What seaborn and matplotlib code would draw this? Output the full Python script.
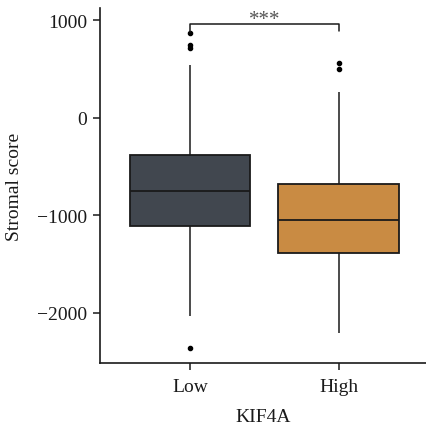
import matplotlib
matplotlib.use("Agg")
import matplotlib.pyplot as plt
import seaborn as sns
import pandas as pd

groups = ["Low", "High"]
low_scores = [-2360, -2040, -1600, -1300, -1110, -1000, -900, -820, -750,
              -650, -550, -450, -380, 541, 722, 753, 870]
high_scores = [-2210, -1800, -1550, -1387, -1250, -1150, -1048, -950, -800,
               -678, 261, 497, 562]
palette = ["#41474f", "#c98b43"]
yticks = [1000, 0, -1000, -2000]
sig_label = "***"
sig_y = 962

df = pd.DataFrame({
    "KIF4A": ["Low"] * len(low_scores) + ["High"] * len(high_scores),
    "Stromal score": low_scores + high_scores,
})

sns.set_style("ticks")
plt.rcParams["font.family"] = ["Liberation Serif", "DejaVu Serif"]

fig = plt.figure(figsize=(4.26, 4.31), dpi=100)
ax = fig.add_axes([0.2347, 0.1555, 0.7653, 0.8225])

sns.boxplot(data=df, x="KIF4A", y="Stromal score", order=groups,
            hue="KIF4A", hue_order=groups, palette=palette, legend=False,
            width=0.81, linewidth=1.3, linecolor="#1a1a1a", saturation=1,
            flierprops=dict(marker="o", markersize=3,
                            markerfacecolor="black", markeredgecolor="black"),
            whiskerprops=dict(color="#1a1a1a", linewidth=1.1),
            capprops=dict(linewidth=0),
            ax=ax)

ax.set_xlim(-0.605, 1.587)
ax.set_ylim(-2518, 1123)
ax.set_yticks(yticks)
ax.set_yticklabels([str(v).replace("-", "\u2212") for v in yticks])
sns.despine(ax=ax)
for s in ["left", "bottom"]:
    ax.spines[s].set_linewidth(1.2)
    ax.spines[s].set_color("#1a1a1a")
ax.tick_params(axis="both", length=5, width=1.1, labelsize=14,
               colors="#1a1a1a", pad=4)
ax.tick_params(axis="x", pad=6)
ax.set_xlabel("KIF4A", fontsize=14, labelpad=9, color="#1a1a1a")
ax.set_ylabel("Stromal score", fontsize=14, labelpad=10, color="#1a1a1a")

# significance bracket
ax.plot([0, 0, 1, 1], [880, sig_y, sig_y, 890], color="#1a1a1a", lw=1.1)
ax.text(0.5, sig_y - 45, sig_label, ha="center", va="bottom",
        fontsize=15, color="#555555")

fig.savefig("out.png", dpi=100)
